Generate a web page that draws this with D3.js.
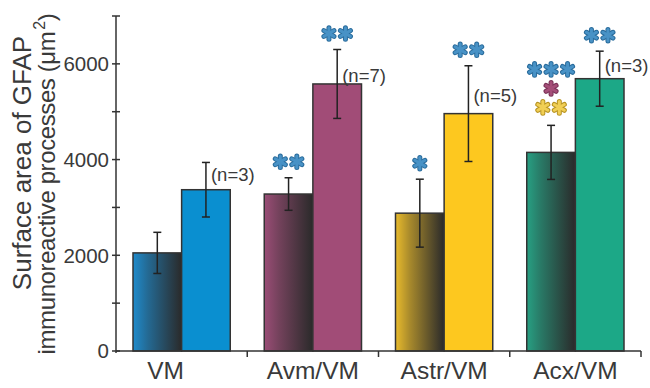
<!DOCTYPE html>
<html>
<head>
<meta charset="utf-8">
<script src="https://cdn.jsdelivr.net/npm/d3@7"></script>
<style>
  html, body { margin: 0; padding: 0; background: #fff; }
  svg { display: block; font-family: "Liberation Sans", Arial, Helvetica, sans-serif; }
</style>
</head>
<body>
<svg id="chart" width="650" height="388"></svg>
<script>
// ---------- data ----------
const categories = ["VM", "Avm/VM", "Astr/VM", "Acx/VM"];
const darkValues  = [2050, 3280, 2880, 4150];
const darkErrors  = [430, 340, 710, 565];
const lightValues = [3370, 5580, 4960, 5690];
const lightErrors = [570, 720, 1000, 575];
const nLabels = ["(n=3)", "(n=7)", "(n=5)", "(n=3)"];
const nLabelAt = [3680, 5750, 5340, 5960];
const lightColors = ["#0a8fd0", "#a14c77", "#fdc81f", "#1ca887"];
const darkStartColors = ["#1f8bcc", "#9a4d76", "#e9bb2c", "#27a083"];
// significance stars: [colour key, count], listed bottom to top
const darkStars = [[], [["blue", 2]], [["blue", 1]], [["yellow", 2], ["maroon", 1], ["blue", 3]]];
const lightStars = [[], [["blue", 2]], [["blue", 2]], [["blue", 2]]];
const starColors = { blue: ["#4892c6", "#2a6c9c"], maroon: ["#a54f79", "#7a3257"], yellow: ["#f1cf55", "#b79322"] };
const yTicks = [0, 1000, 2000, 3000, 4000, 5000, 6000, 7000];
const yLabels = [0, 2000, 4000, 6000];

// ---------- layout ----------
const svg = d3.select("#chart");
const mLeft = 116, mRight = 641, mTop = 16, mBottom = 351;
const y = d3.scaleLinear().domain([0, 7000]).range([mBottom, mTop]);
const x0 = d3.scaleBand().domain(categories).range([mLeft, mRight]).padding(0);
const gw = x0.bandwidth();
const x1 = d3.scaleBand().domain(["dark", "light"]).range([17, gw - 17]).padding(0);
const bw = x1.bandwidth();
const textColor = "#3a3a3a";

// gradients
const defs = svg.append("defs");
categories.forEach((c, i) => {
  const g = defs.append("linearGradient").attr("id", "grad" + i)
    .attr("x1", "0%").attr("x2", "100%").attr("y1", "0%").attr("y2", "0%");
  g.append("stop").attr("offset", "0%").attr("stop-color", darkStartColors[i]);
  g.append("stop").attr("offset", "30%").attr("stop-color", d3.interpolateRgb(darkStartColors[i], "#2d2d2d")(0.35));
  g.append("stop").attr("offset", "100%").attr("stop-color", "#2a2a2a");
});

// bars
const groups = svg.append("g").selectAll("g").data(categories).join("g")
  .attr("transform", d => `translate(${x0(d)},0)`);

groups.append("rect")
  .attr("x", x1("dark")).attr("width", bw)
  .attr("y", (d, i) => y(darkValues[i])).attr("height", (d, i) => y(0) - y(darkValues[i]))
  .attr("fill", (d, i) => `url(#grad${i})`).attr("stroke", "#333").attr("stroke-width", 1.5);

groups.append("rect")
  .attr("x", x1("light")).attr("width", bw)
  .attr("y", (d, i) => y(lightValues[i])).attr("height", (d, i) => y(0) - y(lightValues[i]))
  .attr("fill", (d, i) => lightColors[i]).attr("stroke", "#333").attr("stroke-width", 1.5);

// error bars
function errorBar(sel, key, vals, errs) {
  const cx = x1(key) + bw / 2;
  const g = sel.append("g").attr("stroke", "#222").attr("stroke-width", 1.5);
  g.append("line").attr("x1", cx).attr("x2", cx)
    .attr("y1", (d, i) => y(vals[i] + errs[i])).attr("y2", (d, i) => y(vals[i] - errs[i]));
  [1, -1].forEach(s => {
    g.append("line").attr("x1", cx - 4).attr("x2", cx + 4)
      .attr("y1", (d, i) => y(vals[i] + s * errs[i])).attr("y2", (d, i) => y(vals[i] + s * errs[i]));
  });
}
errorBar(groups, "dark", darkValues, darkErrors);
errorBar(groups, "light", lightValues, lightErrors);

// n labels
groups.append("text")
  .attr("x", x1("light") + bw / 2 + 5)
  .attr("y", (d, i) => y(nLabelAt[i]))
  .attr("dy", "0.35em")
  .attr("font-size", 18.5).attr("fill", textColor)
  .text((d, i) => nLabels[i]);

// stars
function drawStar(g, cx, cy, key) {
  const [fill, edge] = starColors[key];
  const r = 5.8;
  const angles = [90, 30, -30].map(a => a * Math.PI / 180);
  [[edge, 5], [fill, 3]].forEach(([col, w]) => {
    angles.forEach(a => {
      g.append("line")
        .attr("x1", cx - r * Math.cos(a)).attr("y1", cy - r * Math.sin(a))
        .attr("x2", cx + r * Math.cos(a)).attr("y2", cy + r * Math.sin(a))
        .attr("stroke", col).attr("stroke-width", w).attr("stroke-linecap", "round");
    });
  });
}
const starLayer = svg.append("g");
function drawStarStack(stacks, key, vals, errs) {
  stacks.forEach((rows, i) => {
    const cx = x0(categories[i]) + x1(key) + bw / 2;
    let cy = y(vals[i] + errs[i]) - (rows.length > 1 ? 18 : 16);
    rows.forEach(([col, count]) => {
      for (let k = 0; k < count; k++) {
        drawStar(starLayer, cx + (k - (count - 1) / 2) * 16.5, cy, col);
      }
      cy -= 19;
    });
  });
}
drawStarStack(darkStars, "dark", darkValues, darkErrors);
drawStarStack(lightStars, "light", lightValues, lightErrors);

// y axis
const yAxis = svg.append("g").attr("stroke", "#333").attr("stroke-width", 1.5);
yAxis.append("line").attr("x1", mLeft).attr("x2", mLeft).attr("y1", y(7000)).attr("y2", y(0) + 2);
yAxis.selectAll("line.tick").data(yTicks).join("line").attr("class", "tick")
  .attr("x1", mLeft - 4).attr("x2", mLeft + 4).attr("y1", d => y(d)).attr("y2", d => y(d));
svg.append("g").selectAll("text").data(yLabels).join("text")
  .attr("x", mLeft - 7).attr("y", d => y(d)).attr("dy", "0.36em")
  .attr("text-anchor", "end").attr("font-size", 20.5).attr("fill", textColor)
  .text(d => d);

// x axis
const xAxis = svg.append("g").attr("stroke", "#333").attr("stroke-width", 1.5);
xAxis.append("line").attr("x1", mLeft).attr("x2", mRight).attr("y1", mBottom).attr("y2", mBottom);
xAxis.selectAll("line.tick").data(categories.slice(1).map(c => x0(c)).concat([mRight])).join("line")
  .attr("class", "tick").attr("x1", d => d).attr("x2", d => d).attr("y1", mBottom).attr("y2", mBottom + 6);
svg.append("g").selectAll("text").data(categories).join("text")
  .attr("x", (d, i) => x0(d) + gw / 2 + (i === 0 ? -16 : 0)).attr("y", 379)
  .attr("text-anchor", "middle").attr("font-size", 24.5).attr("fill", textColor)
  .text(d => d);

// y title
const title = svg.append("g").attr("fill", textColor);
title.append("text")
  .attr("transform", "translate(31,163) rotate(-90)")
  .attr("font-size", 26)
  .attr("text-anchor", "middle").text("Surface area of GFAP");
const t2 = title.append("text")
  .attr("transform", "translate(55,184) rotate(-90)")
  .attr("font-size", 24).attr("letter-spacing", -0.4)
  .attr("text-anchor", "middle");
t2.append("tspan").text("immunoreactive processes (\u03bcm");
t2.append("tspan").attr("dy", -10).attr("dx", 2).attr("font-size", 16).text("2");
t2.append("tspan").attr("dy", 10).text(")");
</script>
</body>
</html>
